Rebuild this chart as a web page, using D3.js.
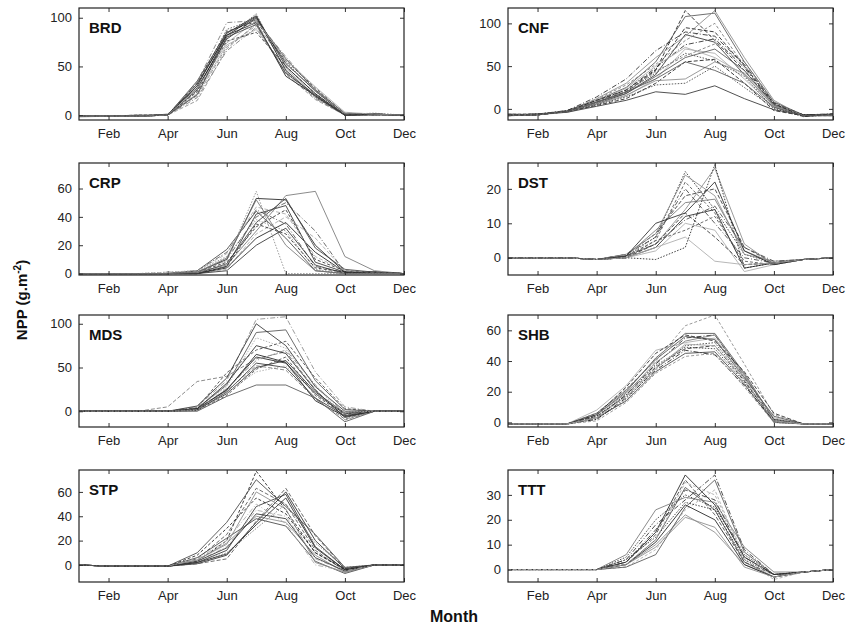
<!DOCTYPE html>
<html>
<head>
<meta charset="utf-8">
<script src="https://cdn.jsdelivr.net/npm/d3@7"></script>
<style>
  body { margin: 0; background: #fff; }
  svg { display: block; font-family: "Liberation Sans", Arial, sans-serif; }
</style>
</head>
<body>
<script>
// months on the x axis (1 = Jan ... 12 = Dec)
const months = d3.range(1, 13);
const monthNames = ['Jan', 'Feb', 'Mar', 'Apr', 'May', 'Jun', 'Jul', 'Aug', 'Sep', 'Oct', 'Nov', 'Dec'];
const monthTicks = [2, 4, 6, 8, 10, 12];

// monthly NPP per biome, one array per year / site
const brdSeries = [
  [-1, -1, -1, 0, 30, 84, 102, 50, 22, 0, 1, 0],
  [-1, -1, -1, 0, 25, 80, 104, 45, 18, 0, 1, 0],
  [-1, -1, 0, 0, 33, 86, 96, 56, 28, 1, 1, 0],
  [-1, -1, -1, 0, 20, 70, 92, 42, 16, 0, 0, 0],
  [-1, -1, -1, 1, 28, 78, 100, 53, 25, 0, 1, 0],
  [-2, -1, -1, 0, 22, 72, 88, 48, 20, 0, 1, 0],
  [-1, -1, -1, 0, 35, 85, 98, 58, 26, 2, 1, 0],
  [-1, -1, -1, 0, 18, 66, 90, 44, 17, 0, 0, 0],
  [-1, -1, 0, 0, 26, 82, 95, 40, 20, 0, 1, 0],
  [-1, -1, -1, 0, 30, 88, 99, 55, 24, 1, 2, 0],
  [-1, -1, -1, 0, 24, 76, 85, 50, 22, 0, 1, 0],
  [-1, -1, -1, 0, 15, 68, 94, 52, 27, 1, 1, 0],
  [-1, -1, -1, 0, 32, 82, 101, 46, 19, 0, 1, 0],
  [-1, -1, -1, 0, 27, 74, 97, 57, 29, 3, 1, 0],
  [-1, -1, -1, 0, 21, 80, 93, 43, 21, 0, 0, 0],
  [-1, -1, -1, 0, 34, 95, 97, 60, 25, 2, 1, 0]
];
const cnfSeries = [
  [-7, -7, -3, 8, 20, 45, 115, 80, 45, 5, -8, -7],
  [-6, -7, -2, 10, 25, 55, 108, 112, 55, 8, -7, -6],
  [-8, -6, -3, 6, 18, 40, 87, 78, 40, 3, -8, -7],
  [-7, -7, -3, 12, 30, 60, 85, 115, 60, 10, -9, -6],
  [-7, -6, -2, 9, 22, 48, 75, 82, 48, 5, -7, -7],
  [-8, -7, -4, 5, 15, 35, 70, 65, 35, 2, -8, -8],
  [-7, -7, -3, 7, 20, 42, 65, 56, 38, 0, -9, -7],
  [-6, -6, -2, 11, 28, 52, 80, 100, 50, 6, -7, -6],
  [-7, -7, -3, 4, 12, 30, 55, 58, 30, -2, -8, -7],
  [-8, -7, -3, 8, 18, 38, 60, 70, 45, 4, -8, -8],
  [-7, -6, -4, 3, 10, 20, 17, 27, 12, -1, -7, -7],
  [-7, -7, -3, 6, 16, 33, 35, 55, 42, 5, -8, -7],
  [-7, -7, -2, 14, 35, 68, 90, 85, 52, 7, -7, -6],
  [-6, -7, -3, 9, 24, 50, 72, 60, 40, 3, -8, -7],
  [-7, -6, -3, 5, 14, 28, 30, 50, 25, 1, -8, -7],
  [-8, -7, -3, 7, 19, 44, 62, 76, 55, 8, -8, -8],
  [-7, -7, -3, 10, 22, 46, 95, 90, 50, 6, -9, -6],
  [-7, -7, -3, 8, 20, 35, 55, 45, 30, 2, -8, -7]
];
const crpSeries = [
  [0, 0, 0, 0, 1, 10, 53, 52, 20, 1, 1, 0],
  [0, 0, 0, 0, 2, 15, 45, 35, 5, 1, 1, 0],
  [0, 0, 0, 0, 0, 5, 42, 48, 8, 1, 0, 0],
  [0, 0, 0, 1, 2, 12, 38, 30, 3, 0, 1, 0],
  [0, 0, 0, 0, 1, 8, 33, 45, 10, 2, 1, 0],
  [0, 0, 0, 0, 0, 3, 28, 40, 25, 2, 1, 0],
  [0, 0, 0, 0, 2, 17, 44, 25, 2, 0, 1, 0],
  [0, 0, 0, 0, 1, 6, 30, 55, 58, 12, 2, 0],
  [0, 0, 0, 0, 0, 4, 25, 36, 15, 1, 1, 0],
  [0, 0, 0, 0, 1, 10, 40, 50, 30, 1, 1, 0],
  [0, 0, 0, 0, 0, 2, 20, 32, 6, 0, 0, 0],
  [0, 0, 0, 0, 1, 9, 58, 0, 0, 0, 0, 0],
  [0, 0, 0, 0, 0, 5, 35, 28, 4, 1, 1, 0],
  [0, 0, 0, 1, 2, 14, 47, 42, 12, 2, 1, 0],
  [0, 0, 0, 0, 0, 7, 36, 53, 18, 3, 1, 0],
  [0, 0, 0, 0, 1, 11, 52, 20, 2, 0, 0, 0]
];
const dstSeries = [
  [0, 0, 0, -0.5, 0.5, 6, 25, 14, 1, -1.5, -0.5, 0],
  [0, 0, 0, -0.5, 0, 5, 22, 13, -2, -1.5, -0.5, 0],
  [0, 0, 0, -0.5, 1, 7, 18, 20, 3, -1.5, -0.5, 0],
  [0, 0, 0, -0.5, 0.5, 4, 14, 26, 4, -2, -0.5, 0],
  [0, 0, 0, -0.5, 0, 3, 12, 14, -3, -1.5, -0.5, 0],
  [0, 0, 0, -0.5, 0, 2, 10, 8, -4, -2, -0.5, 0],
  [0, 0, 0, -0.5, 1, 6, 20, 10, 0, -1.5, -0.5, 0],
  [0, 0, 0, -0.5, 0.5, 8, 16, 17, 2, -1.5, -0.5, 0],
  [0, 0, 0, -0.5, 0, -0.5, 3, 27, -3, -1.5, -0.5, 0],
  [0, 0, 0, -0.5, 0.5, 5, 8, 12, -1, -2, -0.5, 0],
  [0, 0, 0, -0.5, 0, 4, 13, 6, -2, -1.5, -0.5, 0],
  [0, 0, 0, -0.5, 1, 7, 24, 18, 1, -1, -0.5, 0],
  [0, 0, 0, -0.5, 0.5, 10, 13, 22, 2, -2, -0.5, 0],
  [0, 0, 0, -0.5, 0, 3, 6, -1, -2, -1.5, -0.5, 0],
  [0, 0, 0, -0.5, 0.5, 4, 11, 15, 3, -1, -0.5, 0]
];
const mdsSeries = [
  [0, 0, 0, 0, 2, 25, 62, 55, 20, -3, 0, 0],
  [0, 0, 0, 0, 3, 30, 90, 93, 35, 2, 0, 0],
  [0, 0, 0, 0, 1, 22, 55, 50, 15, -5, 0, 0],
  [0, 0, 0, 0, 5, 35, 105, 108, 45, 5, 0, 0],
  [0, 0, 0, 0, 2, 20, 50, 58, 22, -2, 0, 0],
  [0, 0, 0, 0, 4, 28, 84, 72, 30, -8, 0, 0],
  [0, 0, 0, 0, 1, 18, 48, 62, 18, -4, 0, 0],
  [0, 0, 0, 5, 34, 40, 60, 68, 25, -10, 0, 0],
  [0, 0, 0, 0, 3, 24, 65, 56, 12, -6, 0, 0],
  [0, 0, 0, 0, 0, 17, 30, 30, 15, -12, 0, 0],
  [0, 0, 0, 0, 6, 38, 100, 75, 28, 0, 0, 0],
  [0, 0, 0, 0, 2, 26, 58, 70, 30, -3, 0, 0],
  [0, 0, 0, 0, 3, 32, 75, 66, 24, -7, 0, 0],
  [0, 0, 0, 0, 1, 21, 45, 52, 20, -1, 0, 0],
  [0, 0, 0, 0, 4, 44, 70, 80, 38, 3, 0, 0],
  [0, 0, 0, 0, 2, 23, 52, 47, 14, -9, 0, 0]
];
const shbSeries = [
  [-1, -1, -1, 3, 18, 38, 55, 57, 30, 1, -1, -1],
  [-1, -1, -1, 5, 20, 42, 58, 58, 32, 2, -1, -1],
  [-1, -1, -1, 2, 15, 35, 50, 52, 28, 0, -1, -1],
  [-1, -1, -1, 6, 22, 40, 63, 70, 38, 5, -1, -1],
  [-1, -1, -1, 4, 17, 36, 48, 50, 27, 1, -1, -1],
  [-1, -1, -1, 8, 24, 47, 52, 55, 30, 3, -1, -1],
  [-1, -1, -1, 3, 14, 33, 45, 46, 25, 0, -1, -1],
  [-1, -1, -1, 5, 19, 39, 53, 57, 31, 2, -1, -1],
  [-1, -1, -1, 2, 16, 34, 47, 44, 24, 1, -1, -1],
  [-1, -1, -1, 6, 21, 41, 56, 54, 29, 4, -1, -1],
  [-1, -1, -1, 4, 18, 37, 49, 48, 26, 2, -1, -1],
  [-1, -1, -1, 1, 13, 32, 43, 45, 23, 0, -1, -1],
  [-1, -1, -1, 5, 23, 45, 57, 53, 33, 6, -1, -1],
  [-1, -1, -1, 3, 17, 35, 51, 50, 28, 1, -1, -1]
];
const stpSeries = [
  [0, -1, -1, -1, 3, 20, 77, 45, 10, -3, 0, 0],
  [0, -1, -1, -1, 5, 25, 63, 50, 12, -5, 0, 0],
  [0, -1, -1, -1, 2, 12, 48, 58, 15, -4, 0, 0],
  [0, -1, -1, -1, 4, 18, 40, 35, 8, -6, 0, 0],
  [0, -1, -1, -1, 1, 8, 35, 60, 20, -3, 0, 0],
  [0, -1, -1, -1, 3, 15, 45, 40, 5, -5, 0, 0],
  [0, -1, -1, -1, 6, 22, 38, 32, 3, -7, 0, 0],
  [0, -1, -1, -1, 2, 10, 30, 50, 18, -2, 0, 0],
  [0, -1, -1, -1, 8, 30, 55, 42, 10, -4, 0, 0],
  [0, -1, -1, -1, 1, 5, 36, 63, 24, -3, 0, 0],
  [0, -1, -1, -1, 3, 14, 42, 38, 6, -5, 0, 0],
  [0, -1, -1, -1, 4, 17, 60, 46, 2, -6, 0, 0],
  [0, -1, -1, -1, 2, 9, 33, 55, 14, -4, 0, 0],
  [0, -1, -1, -1, 5, 20, 50, 34, 0, -5, 0, 0],
  [0, -1, -1, -1, 10, 35, 70, 48, 25, -2, 0, 0]
];
const tttSeries = [
  [0, 0, 0, 0, 3, 15, 38, 26, 5, -2, -1, 0],
  [0, 0, 0, 0, 2, 12, 33, 24, 3, -3, -1, 0],
  [0, 0, 0, 0, 4, 18, 28, 38, 8, -2, -1, 0],
  [0, 0, 0, 0, 2, 10, 22, 15, 2, -3, -1, 0],
  [0, 0, 0, 0, 5, 20, 30, 25, 6, -2, -1, 0],
  [0, 0, 0, 0, 1, 8, 24, 32, 4, -4, -1, 0],
  [0, 0, 0, 0, 3, 14, 36, 22, 3, -2, -1, 0],
  [0, 0, 0, 0, 6, 24, 29, 27, 9, -1, -1, 0],
  [0, 0, 0, 0, 2, 11, 26, 20, 2, -3, -1, 0],
  [0, 0, 0, 0, 1, 6, 25, 36, 7, -2, -1, 0],
  [0, 0, 0, 0, 3, 16, 32, 28, 5, -2, -1, 0],
  [0, 0, 0, 0, 2, 9, 21, 17, 1, -3, -1, 0],
  [0, 0, 0, 0, 4, 13, 27, 24, 4, -2, -1, 0],
  [0, 0, 0, 0, 2, 12, 35, 30, 6, -3, -1, 0]
];

// panel names, y ranges and y tick values (row-major: left, right)
const panelNames = ['BRD', 'CNF', 'CRP', 'DST', 'MDS', 'SHB', 'STP', 'TTT'];
const panelSeries = [brdSeries, cnfSeries, crpSeries, dstSeries, mdsSeries, shbSeries, stpSeries, tttSeries];
const yDomains = [[-5, 110], [-13, 118], [-1, 78], [-5, 27.5], [-18, 110], [-3, 70], [-14, 78], [-5, 40]];
const yTicks = [[0, 50, 100], [0, 50, 100], [0, 20, 40, 60], [0, 10, 20], [0, 50, 100], [0, 20, 40, 60], [0, 20, 40, 60], [0, 10, 20, 30]];

// layout
const width = 848;
const height = 627;
const colX = [79, 508];
const rowY = [8, 163, 315, 470];
const panelW = 325;
const panelH = 112;

// matlab-like grey line styles, cycled per series
const lineColors = ['#1e1e1e', '#555', '#333', '#8a8a8a', '#2a2a2a', '#aaa', '#444', '#777'];
const lineDashes = [null, '4,2', null, '1.5,1.5', null, '5,2,1,2', '3,2', null];

const svg = d3.select('body').append('svg')
  .attr('width', width)
  .attr('height', height);

const x = d3.scaleLinear().domain([1, 12]).range([0, panelW]);

panelSeries.forEach((series, p) => {
  const col = p % 2;
  const row = Math.floor(p / 2);
  const g = svg.append('g')
    .attr('transform', `translate(${colX[col]}, ${rowY[row]})`);

  const y = d3.scaleLinear().domain(yDomains[p]).range([panelH, 0]);

  const clipId = `clip-${p}`;
  g.append('clipPath').attr('id', clipId)
    .append('rect').attr('width', panelW).attr('height', panelH);

  const line = d3.line()
    .x((d, i) => x(months[i]))
    .y((d) => y(d));

  g.append('g')
    .attr('clip-path', `url(#${clipId})`)
    .selectAll('path')
    .data(series)
    .join('path')
    .attr('d', line)
    .attr('fill', 'none')
    .attr('stroke', (d, i) => lineColors[i % lineColors.length])
    .attr('stroke-dasharray', (d, i) => lineDashes[(i * 3 + p) % lineDashes.length])
    .attr('stroke-width', 1)
    .attr('stroke-opacity', 0.85);

  // axes with inward ticks on all four sides
  const styleAxis = (sel) => {
    sel.select('.domain').remove();
    sel.selectAll('line').attr('stroke', '#333');
    sel.selectAll('text').attr('font-size', 13).attr('fill', '#222');
  };
  g.append('g')
    .attr('transform', `translate(0, ${panelH})`)
    .call(d3.axisBottom(x).tickValues(monthTicks).tickSize(-4).tickPadding(9)
      .tickFormat((m) => monthNames[m - 1]))
    .call(styleAxis);
  g.append('g')
    .call(d3.axisTop(x).tickValues(monthTicks).tickSize(-4).tickFormat(''))
    .call(styleAxis);
  g.append('g')
    .call(d3.axisLeft(y).tickValues(yTicks[p]).tickSize(-4).tickPadding(7))
    .call(styleAxis);
  g.append('g')
    .attr('transform', `translate(${panelW}, 0)`)
    .call(d3.axisRight(y).tickValues(yTicks[p]).tickSize(-4).tickFormat(''))
    .call(styleAxis);

  g.append('rect')
    .attr('width', panelW)
    .attr('height', panelH)
    .attr('fill', 'none')
    .attr('stroke', '#222')
    .attr('stroke-width', 1.2);

  g.append('text')
    .attr('x', 10)
    .attr('y', 25)
    .attr('font-size', 15)
    .attr('font-weight', 'bold')
    .attr('fill', '#111')
    .text(panelNames[p]);
});

// y-axis legend
svg.append('text')
  .attr('transform', 'translate(27, 300) rotate(-90)')
  .attr('text-anchor', 'middle')
  .attr('font-size', 15)
  .attr('font-weight', 'bold')
  .attr('fill', '#111')
  .html('NPP (g.m<tspan dy="-6" font-size="10">-2</tspan><tspan dy="6">)</tspan>');

// x-axis legend
svg.append('text')
  .attr('x', 454)
  .attr('y', 622)
  .attr('text-anchor', 'middle')
  .attr('font-size', 16)
  .attr('font-weight', 'bold')
  .attr('fill', '#111')
  .text('Month');
</script>
</body>
</html>
